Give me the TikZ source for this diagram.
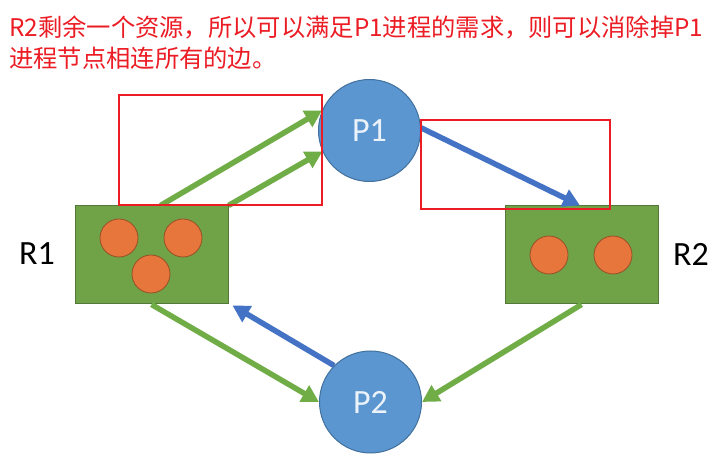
\documentclass[tikz,border=0pt]{standalone}
\usepackage{fontspec}
\setmainfont{Carlito}
\newfontfamily\cjk{Noto Sans CJK SC}
\usetikzlibrary{arrows.meta}
\definecolor{gArrow}{RGB}{112,173,71}
\definecolor{gBox}{RGB}{112,163,72}
\definecolor{gBoxLine}{RGB}{84,120,58}
\definecolor{bArrow}{RGB}{68,114,196}
\definecolor{bCirc}{RGB}{91,150,208}
\definecolor{bCircLine}{RGB}{65,113,156}
\definecolor{oRes}{RGB}{230,118,60}
\definecolor{oResLine}{RGB}{150,80,40}
\definecolor{redMark}{RGB}{236,28,36}
\definecolor{pText}{RGB}{235,242,250}
\tikzset{
  resbox/.style={draw=gBoxLine, line width=1pt, fill=gBox, minimum width=153pt, minimum height=98pt, inner sep=0pt},
  proc/.style={circle, draw=bCircLine, line width=1pt, fill=bCirc, minimum size=102pt, inner sep=0pt, text=pText, font=\fontsize{34}{34}\selectfont},
  tok/.style={circle, draw=oResLine, line width=0.8pt, fill=oRes, minimum size=38pt, inner sep=0pt},
  lbl/.style={font=\fontsize{34}{34}\selectfont, text=black},
  garrow/.style={draw=gArrow, line width=5.5pt, -{Triangle[length=17pt,width=18pt]}},
  barrow/.style={draw=bArrow, line width=5.5pt, -{Triangle[length=17pt,width=18pt]}},
  redbox/.style={draw=redMark, line width=2pt},
  title/.style={anchor=base west, inner sep=0pt, text=redMark, font=\cjk\fontsize{24.3}{25}\selectfont}
}
\begin{document}
\begin{tikzpicture}[x=1pt,y=1pt]
\useasboundingbox (0,0) rectangle (727,465);
\fill[white] (0,0) rectangle (727,465);
% title
\node[title] (t1) at (9,428) {R2剩余一个资源，所以可以满足P1进程的需求，则可以消除掉P1};
\node[title] (t2) at (9,397) {进程节点相连所有的边。};
% resource boxes
\node[resbox] (R1) at (151.5,210) {};
\node[resbox] (R2) at (581.5,210) {};
\node[tok] (r1a) at (119,227) {};
\node[tok] (r1b) at (183,227) {};
\node[tok] (r1c) at (151,191) {};
\node[tok] (r2a) at (549,210) {};
\node[tok] (r2b) at (613,210) {};
\node[lbl] (L1) at (37,211) {R1};
\node[lbl] (L2) at (691,211) {R2};
% processes
\node[proc] (P1) at (369.5,334.5) {P1};
\node[proc] (P2) at (370.5,63) {P2};
% edges
\coordinate (a1s) at ([xshift=9pt]R1.north);
\draw[garrow] (a1s) -- (P1.157);
\draw[garrow] (R1.north east) -- (P1.204);
\coordinate (b1e) at ([xshift=-1.5pt]R2.north);
\draw[barrow] (P1.3) -- (b1e);
\coordinate (b2e) at ([xshift=4pt,yshift=-1pt]R1.south east);
\draw[barrow] (P2.135) -- (b2e);
\draw[garrow] (R1.south) -- (P2.west);
\draw[garrow] (R2.south) -- (P2.east);
% red marks
\draw[redbox] (119,370) rectangle (322,260);
\draw[redbox] (421,345) rectangle (610,256);
\end{tikzpicture}
\end{document}
